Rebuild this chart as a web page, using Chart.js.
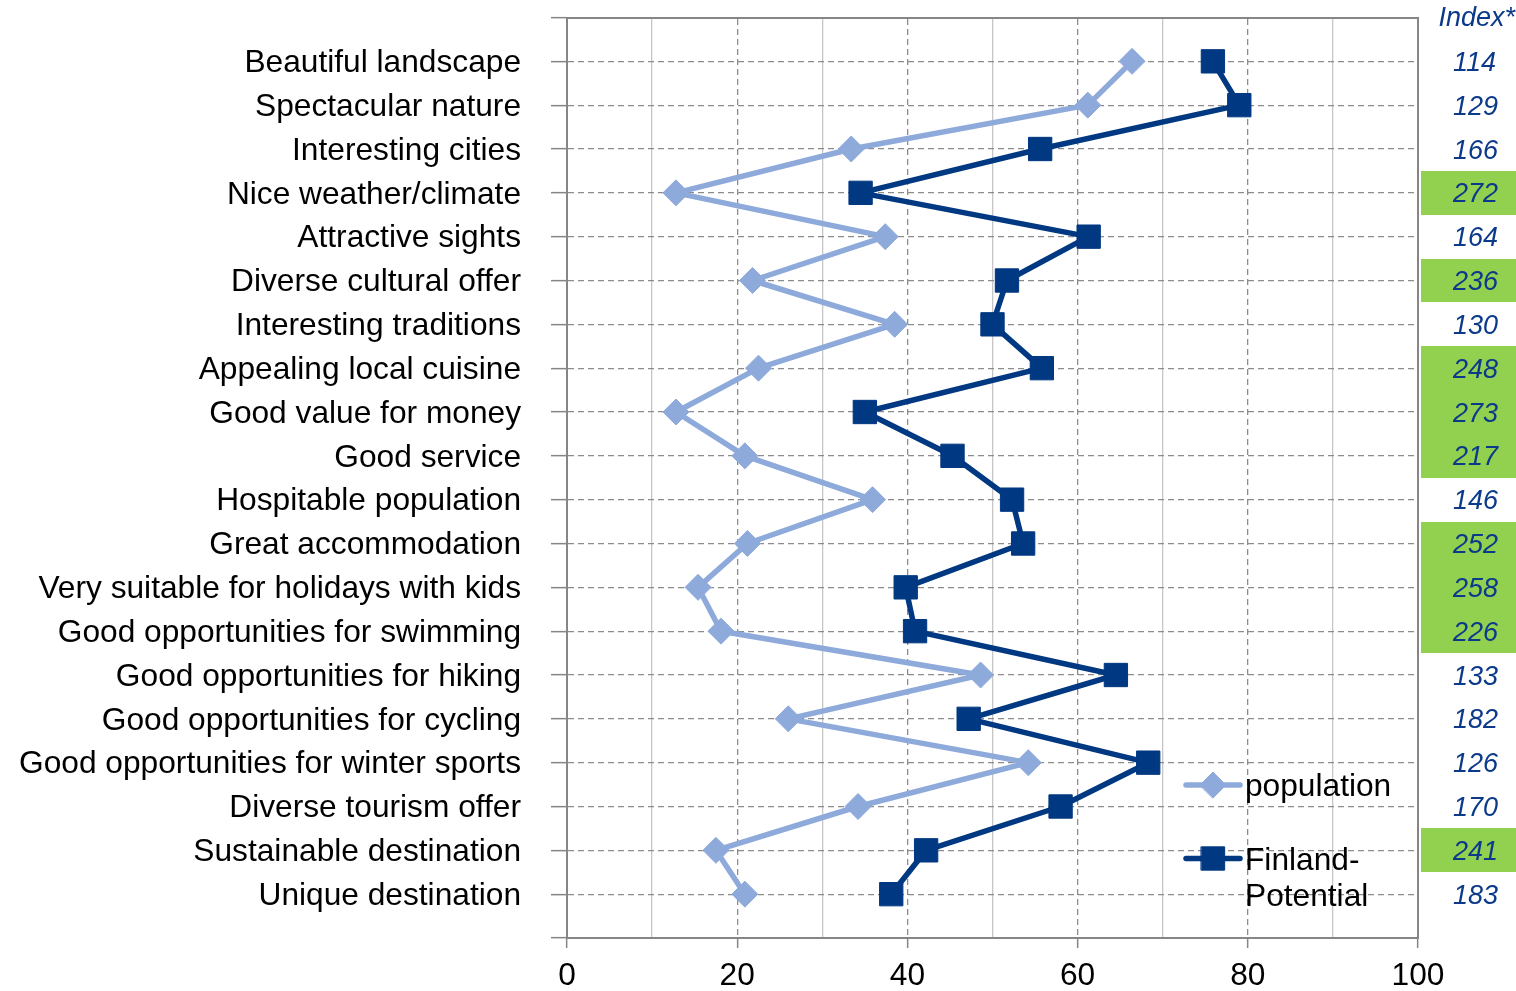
<!DOCTYPE html>
<html>
<head>
<meta charset="utf-8">
<script src="https://cdn.jsdelivr.net/npm/chart.js@4/dist/chart.umd.min.js"></script>
<style>
  html, body { margin: 0; padding: 0; background: #fff; }
  #wrap { position: relative; width: 1516px; height: 991px; }
</style>
</head>
<body>
<div id="wrap"><canvas id="chart"></canvas></div>
<script>
// Destination attributes, top to bottom
const categories = [
  'Beautiful landscape',
  'Spectacular nature',
  'Interesting cities',
  'Nice weather/climate',
  'Attractive sights',
  'Diverse cultural offer',
  'Interesting traditions',
  'Appealing local cuisine',
  'Good value for money',
  'Good service',
  'Hospitable population',
  'Great accommodation',
  'Very suitable for holidays with kids',
  'Good opportunities for swimming',
  'Good opportunities for hiking',
  'Good opportunities for cycling',
  'Good opportunities for winter sports',
  'Diverse tourism offer',
  'Sustainable destination',
  'Unique destination'
];

// Share (%) agreeing with each attribute
const populationScores = [66.4, 61.2, 33.4, 12.8, 37.4, 21.8, 38.5, 22.5, 12.8, 20.9,
                          35.9, 21.2, 15.4, 18.1, 48.6, 26.0, 54.2, 34.2, 17.5, 20.9];
const finlandScores    = [75.9, 79.0, 55.6, 34.5, 61.3, 51.7, 50.0, 55.8, 35.0, 45.3,
                          52.3, 53.6, 39.8, 40.9, 64.5, 47.2, 68.3, 58.0, 42.2, 38.1];

// Index column shown to the right of the plot
const indexValues = [114, 129, 166, 272, 164, 236, 130, 248, 273, 217,
                     146, 252, 258, 226, 133, 182, 126, 170, 241, 183];
const indexHighlightAbove = 200;
const indexHeader = 'Index*';

const seriesLabels = ['population', 'Finland-Potential'];

const FONT = "'Liberation Sans', Arial, Helvetica, sans-serif";
const POP_COLOR = '#8EAADB';
const FIN_COLOR = '#003882';
const INDEX_COLOR = '#0C3A8A';
const CELL_GREEN = '#92D050';
const AXIS_GRAY = '#868686';
const DASH_GRAY = '#8C8C8C';
const MINOR_GRAY = '#C6C6C6';
const NONE = 'rgba(0,0,0,0)';

// keep the plot box fixed: no extra room for overhanging tick labels
function noOverhang(s) {
  s.paddingTop = 0;
  s.paddingBottom = 0;
  s.paddingLeft = 0;
  s.paddingRight = 0;
}

// green cells behind high index values, plus the column header
const indexCells = {
  id: 'indexCells',
  beforeDraw(chart) {
    const y = chart.scales.y;
    const ctx = chart.ctx;
    const left = Math.round(chart.chartArea.right + 3);
    const right = chart.width;
    const half = Math.abs(y.getPixelForValue(1) - y.getPixelForValue(0)) / 2;
    ctx.save();
    ctx.fillStyle = CELL_GREEN;
    indexValues.forEach((v, i) => {
      if (v > indexHighlightAbove) {
        const cy = y.getPixelForValue(i);
        const top = Math.round(cy - half);
        const bottom = Math.round(cy + half);
        ctx.fillRect(left, top, right - left, bottom - top);
      }
    });
    ctx.restore();
  },
  afterDraw(chart) {
    const ctx = chart.ctx;
    const y = chart.scales.y;
    ctx.save();
    ctx.font = 'italic 27px ' + FONT;
    ctx.fillStyle = INDEX_COLOR;
    ctx.textAlign = 'right';
    ctx.textBaseline = 'middle';
    ctx.fillText(indexHeader, chart.width - 1, y.getPixelForValue(-1) + 1);
    ctx.restore();
  }
};

function drawMarker(ctx, style, r, x, y) {
  ctx.beginPath();
  if (style === 'rectRot') {
    ctx.moveTo(x - r, y);
    ctx.lineTo(x, y - r);
    ctx.lineTo(x + r, y);
    ctx.lineTo(x, y + r);
  } else {
    const s = Math.SQRT1_2 * r;
    ctx.rect(x - s, y - s, 2 * s, 2 * s);
  }
  ctx.closePath();
  ctx.fill();
  ctx.stroke();
}

// legend drawn inside the plot, lower right
const innerLegend = {
  id: 'innerLegend',
  afterDatasetsDraw(chart) {
    const ctx = chart.ctx;
    const area = chart.chartArea;
    const x0 = area.right - 232;
    const x1 = area.right - 178;
    const tx = area.right - 173;
    const rows = [area.bottom - 153, area.bottom - 79.5];
    ctx.save();
    ctx.font = '31.7px ' + FONT;
    chart.data.datasets.forEach((ds, i) => {
      const ly = rows[i];
      ctx.strokeStyle = ds.borderColor;
      ctx.lineWidth = ds.borderWidth;
      ctx.lineCap = 'round';
      ctx.beginPath();
      ctx.moveTo(x0, ly);
      ctx.lineTo(x1, ly);
      ctx.stroke();
      ctx.fillStyle = ds.pointBackgroundColor;
      ctx.strokeStyle = ds.pointBorderColor;
      ctx.lineWidth = ds.pointBorderWidth;
      drawMarker(ctx, ds.pointStyle, ds.pointRadius, (x0 + x1) / 2, ly);
      // wrap the label after a hyphen when it runs past the plot edge
      const maxW = area.right - tx - 20;
      const parts = ds.label.split(/(?<=-)/);
      const lines = [];
      let cur = '';
      parts.forEach(p => {
        if (cur && ctx.measureText(cur + p).width > maxW) { lines.push(cur); cur = p; }
        else cur += p;
      });
      if (cur) lines.push(cur);
      ctx.fillStyle = '#000';
      ctx.textAlign = 'left';
      ctx.textBaseline = 'alphabetic';
      lines.forEach((t, k) => ctx.fillText(t, tx, ly + 11 + k * 36));
    });
    ctx.restore();
  }
};

const toPoints = arr => arr.map((v, i) => ({ x: v, y: i }));

new Chart(document.getElementById('chart'), {
  type: 'line',
  data: {
    datasets: [
      {
        label: seriesLabels[0],
        data: toPoints(populationScores),
        borderColor: POP_COLOR,
        backgroundColor: POP_COLOR,
        borderWidth: 5.5,
        borderJoinStyle: 'round',
        pointStyle: 'rectRot',
        pointRadius: 13,
        pointBorderWidth: 1,
        pointBackgroundColor: POP_COLOR,
        pointBorderColor: POP_COLOR,
        xAxisID: 'x',
        yAxisID: 'y'
      },
      {
        label: seriesLabels[1],
        data: toPoints(finlandScores),
        borderColor: FIN_COLOR,
        backgroundColor: FIN_COLOR,
        borderWidth: 5.5,
        borderJoinStyle: 'round',
        pointStyle: 'rect',
        pointRadius: 16.5,
        pointBorderWidth: 1,
        pointBackgroundColor: FIN_COLOR,
        pointBorderColor: FIN_COLOR,
        xAxisID: 'x',
        yAxisID: 'y'
      }
    ]
  },
  options: {
    indexAxis: 'y',
    responsive: true,
    maintainAspectRatio: false,
    animation: false,
    layout: { padding: { top: 16, left: 0, right: 0, bottom: 0 } },
    plugins: {
      legend: { display: false },
      tooltip: { enabled: false },
      title: { display: false }
    },
    elements: { line: { tension: 0 } },
    scales: {
      x: {
        type: 'linear',
        position: 'bottom',
        min: 0,
        max: 100,
        afterFit(s) { s.height = 53; noOverhang(s); },
        ticks: {
          stepSize: 10,
          autoSkip: false,
          maxRotation: 0,
          padding: 9,
          color: '#000',
          font: { family: FONT, size: 31.7 },
          callback: v => (v % 20 === 0 ? String(v) : '')
        },
        grid: {
          color: c => (c.tick && c.tick.value % 20 !== 0 ? MINOR_GRAY : NONE),
          lineWidth: 1.3,
          tickLength: 10,
          tickWidth: 1.5,
          tickColor: c => (c.tick && c.tick.value % 20 === 0 ? AXIS_GRAY : NONE)
        },
        border: { color: AXIS_GRAY, width: 2 }
      },
      xMajor: {
        type: 'linear',
        position: 'top',
        min: 0,
        max: 100,
        afterFit(s) { s.height = 0; noOverhang(s); },
        ticks: { display: false, stepSize: 20 },
        grid: {
          color: c => (c.tick && c.tick.value > 0 && c.tick.value < 100 ? DASH_GRAY : NONE),
          lineWidth: 1.3,
          drawTicks: false
        },
        border: { display: true, color: AXIS_GRAY, width: 2, dash: [6, 4] }
      },
      y: {
        type: 'linear',
        position: 'left',
        reverse: true,
        min: -1,
        max: 20,
        afterFit(s) { s.width = 567; noOverhang(s); },
        ticks: {
          stepSize: 1,
          autoSkip: false,
          padding: 30,
          labelOffset: 2,
          color: '#000',
          font: { family: FONT, size: 31.7 },
          callback: v => (v >= 0 && v < categories.length ? categories[v] : '')
        },
        grid: {
          color: DASH_GRAY,
          lineWidth: 1.3,
          tickLength: 16,
          tickWidth: 1.5,
          tickColor: AXIS_GRAY
        },
        border: { color: AXIS_GRAY, width: 2, dash: [6, 4] }
      },
      yIndex: {
        type: 'linear',
        position: 'right',
        reverse: true,
        min: -1,
        max: 20,
        afterFit(s) { s.width = 98; noOverhang(s); },
        ticks: {
          stepSize: 1,
          autoSkip: false,
          padding: 35,
          labelOffset: 2,
          crossAlign: 'near',
          color: INDEX_COLOR,
          font: { family: FONT, size: 27, style: 'italic' },
          callback: v => (v >= 0 && v < indexValues.length ? String(indexValues[v]) : '')
        },
        grid: { display: false, drawTicks: false },
        border: { display: true, color: AXIS_GRAY, width: 2 }
      }
    }
  },
  plugins: [indexCells, innerLegend]
});
</script>
</body>
</html>
